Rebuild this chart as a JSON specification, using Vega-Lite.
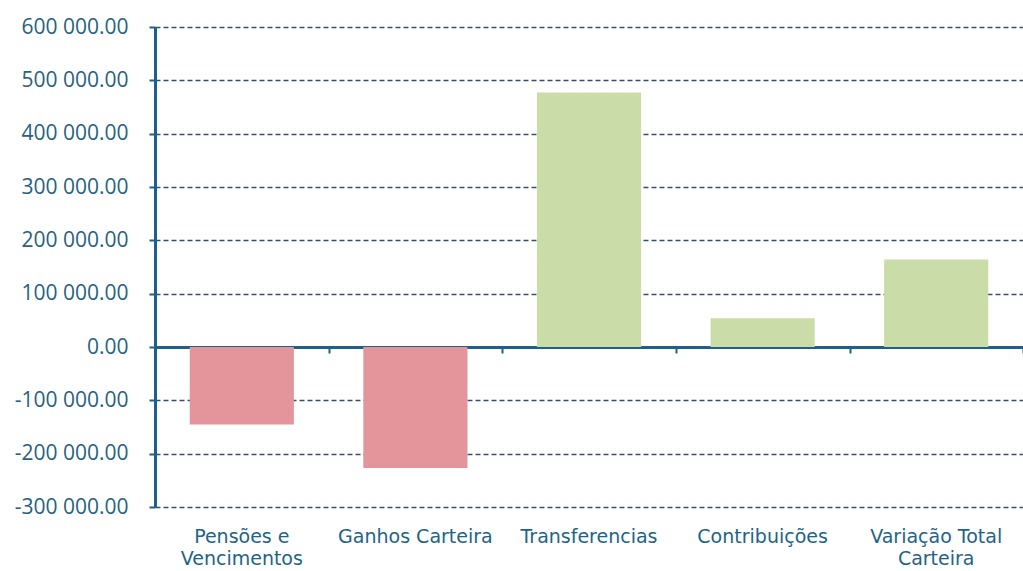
{
  "$schema": "https://vega.github.io/schema/vega-lite/v6.json",
  "width": 868,
  "height": 480,
  "autosize": {"type": "none"},
  "padding": {"left": 155, "top": 27, "right": 0, "bottom": 64},
  "background": "white",
  "config": {
    "locale": {"number": {"decimal": ".", "thousands": " ", "grouping": [3], "currency": ["", ""], "minus": "-"}},
    "view": {"stroke": null},
    "axis": {"labelFont": "Open Sans", "labelColor": "#27627f"}
  },
  "data": {
    "values": [
      {"categoria": "Pensões e|Vencimentos", "valor": -145500, "tipo": "neg"},
      {"categoria": "Ganhos Carteira", "valor": -227000, "tipo": "neg"},
      {"categoria": "Transferencias", "valor": 477000, "tipo": "pos"},
      {"categoria": "Contribuições", "valor": 54000, "tipo": "pos"},
      {"categoria": "Variação Total|Carteira", "valor": 164000, "tipo": "pos"}
    ]
  },
  "encoding": {
    "x": {
      "field": "categoria",
      "type": "nominal",
      "sort": null,
      "scale": {"paddingInner": 0.4, "paddingOuter": 0.2}
    },
    "y": {
      "field": "valor",
      "type": "quantitative",
      "scale": {"domain": [-300000, 600000], "nice": false, "zero": false},
      "axis": {
        "title": null,
        "values": [-300000, -200000, -100000, 0, 100000, 200000, 300000, 400000, 500000, 600000],
        "format": ",.2f",
        "labelFontSize": 21,
        "labelPadding": 21,
        "tickSize": 6,
        "tickColor": "#1f5f8b",
        "tickWidth": 2,
        "domainColor": "#1f5f8b",
        "domainWidth": 3,
        "grid": true,
        "gridColor": "#34506b",
        "gridDash": [5, 3],
        "gridWidth": 1.5
      }
    }
  },
  "layer": [
    {
      "mark": {"type": "bar"},
      "encoding": {
        "x": {
          "field": "categoria",
          "type": "nominal",
          "sort": null,
          "axis": {
            "title": null,
            "orient": "bottom",
            "labelAngle": 0,
            "labelExpr": "split(datum.label, '|')",
            "labelFont": "DejaVu Sans",
            "labelFontSize": 19,
            "labelPadding": 20,
            "labelLineHeight": 22,
            "labelColor": "#1e6486",
            "domain": false,
            "ticks": false,
            "grid": false
          }
        },
        "color": {
          "field": "tipo",
          "type": "nominal",
          "scale": {"domain": ["neg", "pos"], "range": ["#e3959b", "#cadda8"]},
          "legend": null
        }
      }
    },
    {
      "mark": {"type": "bar", "opacity": 0},
      "encoding": {
        "x": {
          "field": "categoria",
          "type": "nominal",
          "sort": null,
          "axis": {
            "title": null,
            "orient": "bottom",
            "offset": -160,
            "labels": false,
            "domain": true,
            "domainColor": "#1f5f8b",
            "domainWidth": 3,
            "ticks": true,
            "bandPosition": 1,
            "tickOffset": 35,
            "tickSize": 6,
            "tickWidth": 2,
            "tickColor": "#1f5f8b",
            "grid": false
          }
        }
      }
    }
  ],
  "resolve": {"axis": {"x": "independent"}}
}
